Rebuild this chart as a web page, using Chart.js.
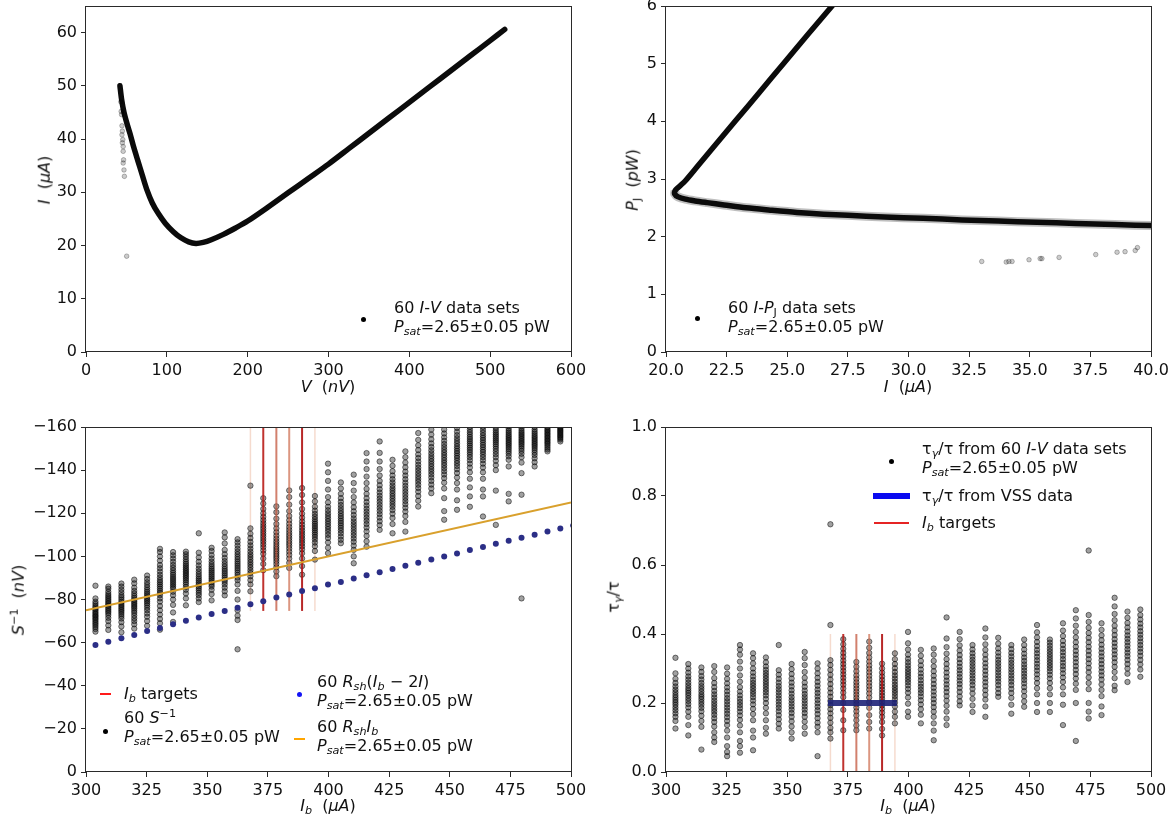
<!DOCTYPE html>
<html>
<head>
<meta charset="utf-8">
<script src="https://cdn.jsdelivr.net/npm/chart.js@4/dist/chart.umd.min.js"></script>
<style>
html,body{margin:0;padding:0;background:#fff;}
#fig{position:relative;width:1175px;height:823px;overflow:hidden;font-family:"DejaVu Sans",sans-serif;color:#111;}
canvas{position:absolute;}
.t{position:absolute;font-size:16px;line-height:18.6px;white-space:nowrap;}
.i{font-style:italic;}
.sb{font-size:70%;vertical-align:-0.28em;line-height:0;}
.sp{font-size:70%;vertical-align:0.55em;line-height:0;}
.ctr{transform:translate(-50%,-50%);}
.rot{transform:translate(-50%,-50%) rotate(-90deg);}
.vc{transform:translateY(-50%);}
.mk{position:absolute;}
.dot{position:absolute;width:5px;height:5px;border-radius:50%;}
</style>
</head>
<body>
<div id="fig">
  <canvas id="cIV" width="590" height="410" style="left:0;top:0"></canvas>
  <canvas id="cPJ" width="585" height="410" style="left:590px;top:0"></canvas>
  <canvas id="cS" width="590" height="413" style="left:0;top:410px"></canvas>
  <canvas id="cTau" width="585" height="413" style="left:590px;top:410px"></canvas>

  <!-- I-V panel labels -->
  <div class="t ctr" style="left:328px;top:387px"><span class="i">V</span>&nbsp;&nbsp;(<span class="i">nV</span>)</div>
  <div class="t rot" style="left:45px;top:180px"><span class="i">I</span>&nbsp;&nbsp;(<span class="i">μA</span>)</div>
  <div class="dot" style="left:360.5px;top:316.5px;background:#000"></div>
  <div class="t" style="left:394px;top:299px">60 <span class="i">I</span>-<span class="i">V</span> data sets<br><span class="i">P<span class="sb">sat</span></span>=2.65±0.05 pW</div>

  <!-- Joule power panel labels -->
  <div class="t ctr" style="left:908px;top:387px"><span class="i">I</span>&nbsp;&nbsp;(<span class="i">μA</span>)</div>
  <div class="t rot" style="left:633px;top:180px"><span class="i">P</span><span class="sb">J</span>&nbsp;&nbsp;(<span class="i">pW</span>)</div>
  <div class="dot" style="left:694.5px;top:315.5px;background:#000"></div>
  <div class="t" style="left:728px;top:299px">60 <span class="i">I</span>-<span class="i">P</span><span class="sb">J</span> data sets<br><span class="i">P<span class="sb">sat</span></span>=2.65±0.05 pW</div>

  <!-- S^-1 panel labels -->
  <div class="t ctr" style="left:328px;top:806px"><span class="i">I<span class="sb">b</span></span>&nbsp;&nbsp;(<span class="i">μA</span>)</div>
  <div class="t rot" style="left:19px;top:600px"><span class="i">S</span><span class="sp">−1</span>&nbsp;&nbsp;(<span class="i">nV</span>)</div>
  <div class="mk" style="left:100px;top:693px;width:10.5px;height:2px;background:#ff1a1a"></div>
  <div class="t vc" style="left:124px;top:694px"><span class="i">I<span class="sb">b</span></span> targets</div>
  <div class="dot" style="left:103px;top:728.5px;background:#000"></div>
  <div class="t" style="left:124px;top:709px">60 <span class="i">S</span><span class="sp">−1</span><br><span class="i">P<span class="sb">sat</span></span>=2.65±0.05 pW</div>
  <div class="dot" style="left:296.5px;top:691.5px;background:#1414f5"></div>
  <div class="t" style="left:317px;top:673px">60 <span class="i">R<span class="sb">sh</span></span>(<span class="i">I<span class="sb">b</span></span> − 2<span class="i">I</span>)<br><span class="i">P<span class="sb">sat</span></span>=2.65±0.05 pW</div>
  <div class="mk" style="left:294px;top:738px;width:10.5px;height:2px;background:#ffa500"></div>
  <div class="t" style="left:317px;top:718px">60 <span class="i">R<span class="sb">sh</span>I<span class="sb">b</span></span><br><span class="i">P<span class="sb">sat</span></span>=2.65±0.05 pW</div>

  <!-- tau ratio panel labels -->
  <div class="t ctr" style="left:908px;top:806px"><span class="i">I<span class="sb">b</span></span>&nbsp;&nbsp;(<span class="i">μA</span>)</div>
  <div class="t rot" style="left:614px;top:597px">τ<span class="sb i">γ</span>/τ</div>
  <div class="dot" style="left:889px;top:459px;background:#000"></div>
  <div class="t" style="left:922px;top:440px">τ<span class="sb i">γ</span>/τ from 60 <span class="i">I</span>-<span class="i">V</span> data sets<br><span class="i">P<span class="sb">sat</span></span>=2.65±0.05 pW</div>
  <div class="mk" style="left:872.5px;top:493px;width:37.5px;height:6px;background:#0a0af0"></div>
  <div class="t vc" style="left:922px;top:496px">τ<span class="sb i">γ</span>/τ from VSS data</div>
  <div class="mk" style="left:873.5px;top:522px;width:35.5px;height:2px;background:#e52424"></div>
  <div class="t vc" style="left:922px;top:523px"><span class="i">I<span class="sb">b</span></span> targets</div>
</div>

<script>
// ---- I-V sweep (V in nV, I in uA) ----
const ivVolt = [42,44,47,50.5,54.5,59,64,69.5,75.5,82,89.5,98,108,117,127,136,145,155,170,185,200,225,250,275,300,325,350,375,400,425,450,475,500,518];
const ivCurr = [50,47.5,45,43,41,38.5,36,33.3,30.4,28,26,24.2,22.6,21.5,20.7,20.4,20.6,21.1,22.1,23.3,24.6,27.2,29.9,32.6,35.3,38.2,41.1,44.0,46.9,49.8,52.7,55.6,58.5,60.6];
const ivStrayVolt = [43,43.5,44,44.5,45,44.5,45.5,45,46,46,46.5,46,47,47.5,50.3];
const ivStrayCurr = [47,45.2,44.6,42.5,41.5,40.8,39.9,39.3,38.6,37.7,36.1,35.5,34.2,33,18];

// ---- Joule power vs current ----
const pjCurr  = [27.05,25.84,24.84,23.85,22.85,21.85,21.3,20.8,20.55,20.38,20.36,20.5,20.8,21.2,21.7,22.4,23.3,24.3,25.4,26.5,27.5,29.0,30.6,32.2,33.7,35.3,36.9,38.5,40.2];
const pjPower = [6.1,5.5,5.0,4.5,4.0,3.5,3.22,2.97,2.87,2.8,2.74,2.69,2.65,2.62,2.59,2.55,2.5,2.46,2.42,2.39,2.37,2.34,2.32,2.29,2.27,2.25,2.23,2.21,2.19];
const pjStrayCurr  = [33.02,34.03,34.14,34.27,34.97,35.43,35.5,36.21,37.72,38.6,38.93,39.35,39.44];
const pjStrayPower = [1.57,1.56,1.57,1.57,1.6,1.62,1.62,1.64,1.69,1.73,1.74,1.76,1.81];

// ---- bias current steps (uA) ----
const biasCurrents = [303.9,309.2,314.6,319.9,325.2,330.5,335.9,341.2,346.5,351.8,357.2,362.5,367.8,373.1,378.5,383.8,389.1,394.4,399.8,405.1,410.4,415.7,421.1,426.4,431.7,437.0,442.4,447.7,453.0,458.3,463.7,469.0,474.3,479.6,485.0,490.3,495.6];

// S^-1 (nV) for each bias step
const sInvColumns = [
[-86.4,-80.5,-79,-78,-77,-76.2,-75.5,-74.8,-74,-73.3,-72.6,-72,-71.3,-70.6,-69.8,-69,-68.2,-67.3,-66.3,-65.1],
[-86,-85,-83.6,-82.5,-81.6,-80.8,-80,-79.2,-78.4,-77.7,-77,-76.2,-75.4,-74.6,-73.8,-72.8,-71.5,-70,-68,-65.9],
[-87.4,-86,-84.6,-83.3,-82,-81,-80,-79,-78.2,-77.4,-76.6,-75.8,-75,-74.2,-73.3,-72.3,-71.2,-69.5,-67.5,-64.8],
[-89.2,-87.5,-85.5,-84,-82.8,-81.7,-80.7,-79.8,-79,-78.2,-77.4,-76.6,-75.8,-74.8,-73.8,-72.6,-71.3,-70,-68.5,-66.5],
[-91.1,-89.5,-88,-86.8,-85.6,-84.5,-83.5,-82.6,-81.7,-80.8,-80,-79.2,-78.3,-77.3,-76.2,-75,-73.5,-72,-70,-67.8],
[-103.5,-102,-100,-98,-96,-94.5,-93,-91.5,-90.2,-89,-88,-87,-86,-85,-84,-83,-82,-80.5,-79,-77,-75,-73,-71,-69,-66],
[-102,-100.5,-99,-97.5,-96,-94.7,-93.5,-92.4,-91.4,-90.4,-89.5,-88.6,-87.7,-86.8,-85.9,-85,-83.6,-82,-80,-77.5,-74,-69.6],
[-102.2,-101,-99.8,-98.6,-97.5,-96.5,-95.6,-94.7,-93.9,-93.1,-92.3,-91.5,-90.7,-89.9,-89,-88,-87,-85.8,-84.5,-82.8,-80.5,-77.3],
[-110.7,-101.7,-99.5,-97.5,-95.8,-94.3,-93,-91.8,-90.7,-89.7,-88.8,-87.9,-87,-86.1,-85.2,-84.2,-83.1,-82,-80.5,-78.8],
[-104,-102.5,-100.6,-99,-97.6,-96.4,-95.3,-94.3,-93.4,-92.5,-91.6,-90.7,-89.8,-88.9,-88,-87,-86,-84.5,-82.5,-79.6],
[-111.1,-108.8,-106,-103,-101,-99.3,-97.8,-96.5,-95.3,-94.2,-93.2,-92.2,-91.2,-90.2,-89.2,-88.2,-87,-85.5,-83.8,-81.9],
[-108,-106.5,-105,-103.5,-102.2,-101,-99.8,-98.7,-97.6,-96.6,-95.6,-94.6,-93.6,-92.5,-91.4,-90.2,-89,-87,-84,-80,-75,-72.5,-70.5,-56.9],
[-132.8,-113,-110.5,-108.5,-106.7,-105.1,-103.6,-102.2,-100.9,-99.7,-98.5,-97.3,-96.1,-94.9,-93.6,-92.3,-90.8,-89,-87,-83.8],
[-127,-124.5,-122,-120,-118.3,-116.8,-115.4,-114.1,-112.9,-111.7,-110.5,-109.3,-108.1,-106.9,-105.6,-104.3,-102.8,-101.2,-99,-96.5,-93.6],
[-123.2,-120.5,-117.5,-115,-113,-111.2,-109.6,-108.2,-106.9,-105.7,-104.5,-103.4,-102.3,-101.2,-100.1,-99,-97.8,-96.5,-95,-93,-90.8],
[-130.6,-127.5,-124,-121,-118.7,-116.8,-115.1,-113.6,-112.2,-110.9,-109.7,-108.5,-107.3,-106.1,-104.9,-103.6,-102.2,-100.7,-99,-97,-94.6],
[-131.7,-128.5,-125,-122,-119.8,-117.9,-116.2,-114.7,-113.3,-112,-110.8,-109.6,-108.4,-107.2,-106,-104.7,-103.3,-101.5,-99,-95.5,-91.5],
[-128,-125.5,-123,-121.2,-119.7,-118.4,-117.2,-116.1,-115.1,-114.1,-113.1,-112.1,-111.1,-110.1,-109,-107.8,-106.4,-104.7,-102.5,-98.5],
[-143,-139,-135,-131,-127.5,-125,-123,-121.4,-120,-118.7,-117.5,-116.3,-115.1,-113.9,-112.7,-111.4,-110,-108.5,-106.5,-104,-101.5],
[-134.3,-131.5,-129,-127,-125.3,-123.8,-122.4,-121.1,-119.9,-118.7,-117.6,-116.5,-115.4,-114.3,-113.2,-112,-110.7,-109.2,-107.7,-106.1],
[-137.9,-134,-130.5,-127.5,-125,-122.8,-120.9,-119.2,-117.6,-116.2,-114.9,-113.6,-112.3,-111,-109.7,-108.3,-106.8,-105,-103,-100,-96.8],
[-147.9,-144,-140.5,-137,-134,-131.3,-129,-127,-125.2,-123.6,-122.1,-120.7,-119.3,-117.9,-116.5,-115,-113.4,-111.6,-109.5,-107,-104.5],
[-153.3,-148,-144,-140.5,-137.5,-135,-133,-131.2,-129.6,-128.1,-126.7,-125.3,-123.9,-122.5,-121.1,-119.6,-118,-116.3,-114.5,-112.3],
[-144.8,-142,-139.5,-137.5,-135.8,-134.3,-132.9,-131.6,-130.4,-129.2,-128,-126.8,-125.6,-124.3,-123,-121.5,-119.8,-117.8,-115,-110.7],
[-148.7,-146,-143.5,-141.3,-139.3,-137.5,-135.8,-134.2,-132.7,-131.3,-129.9,-128.5,-127.1,-125.7,-124.2,-122.6,-120.8,-118.7,-116,-111.5],
[-157.2,-154,-151.5,-149.3,-147.3,-145.6,-144,-142.5,-141.1,-139.8,-138.5,-137.2,-135.9,-134.6,-133.2,-131.7,-130,-128,-125.8,-123.1],
[-158.8,-156.5,-154.3,-152.4,-150.7,-149.2,-147.8,-146.5,-145.3,-144.1,-142.9,-141.7,-140.5,-139.3,-138,-136.6,-135,-133.3,-131.5,-129.3],
[-158.8,-157,-155.2,-153.6,-152.1,-150.7,-149.4,-148.2,-147,-145.8,-144.6,-143.4,-142.2,-140.9,-139.5,-138,-136.3,-134.2,-131.5,-127,-121,-117],
[-159.5,-157.8,-156.2,-154.8,-153.5,-152.3,-151.1,-150,-148.9,-147.8,-146.7,-145.6,-144.4,-143.2,-141.9,-140.4,-138.7,-136.6,-134,-131,-126,-121.6],
[-160,-158.8,-157.6,-156.5,-155.4,-154.4,-153.4,-152.4,-151.4,-150.4,-149.4,-148.3,-147.2,-146,-144.6,-143,-141.2,-139,-136,-132,-127.8,-123],
[-162,-160,-158.6,-157.3,-156.1,-155,-153.9,-152.8,-151.7,-150.6,-149.5,-148.4,-147.2,-146,-144.6,-143,-141.2,-139,-136,-131,-127.8,-118.5],
[-163,-161,-159.6,-158.5,-157.5,-156.6,-155.7,-154.8,-153.9,-153,-152,-151,-149.9,-148.7,-147.4,-146,-144.3,-142.3,-140,-130.5,-114.6],
[-162,-160.3,-159.2,-158.2,-157.3,-156.4,-155.6,-154.8,-154,-153.2,-152.4,-151.6,-150.7,-149.8,-148.8,-147.7,-146.4,-144.8,-141.7,-129,-125.5],
[-162,-160.5,-159.4,-158.4,-157.5,-156.7,-155.9,-155.1,-154.3,-153.5,-152.7,-151.9,-151,-150,-148.9,-147.6,-146,-143.5,-138.6,-128.6,-80.5],
[-160,-158.8,-157.8,-156.9,-156,-155.2,-154.4,-153.6,-152.8,-152,-151.2,-150.3,-149.3,-148.2,-147,-145.5,-143.7,-141.7],
[-160,-159.2,-158.5,-157.8,-157.1,-156.4,-155.7,-155,-154.3,-153.6,-152.9,-152.2,-151.4,-150.5,-149.6,-148.7],
[-161,-160.3,-159.7,-159.1,-158.5,-157.9,-157.3,-156.7,-156.1,-155.5,-154.9,-154.2,-153.3]
];

// R_sh (I_b - 2I), one value per bias step
const rshCurrents = [303.9,309.2,314.6,319.9,325.2,330.5,335.9,341.2,346.5,351.8,357.2,362.5,367.8,373.1,378.5,383.8,389.1,394.4,399.8,405.1,410.4,415.7,421.1,426.4,431.7,437.0,442.4,447.7,453.0,458.3,463.7,469.0,474.3,479.6,485.0,490.3,495.6,500.9];
const rshValues = [-58.9,-60.4,-62.0,-63.5,-65.4,-66.8,-68.5,-70.2,-71.7,-73.3,-74.7,-76.2,-77.8,-79.2,-80.9,-82.3,-84.0,-85.2,-86.9,-88.1,-89.7,-91.2,-92.6,-94.2,-95.6,-97.0,-98.5,-99.9,-101.3,-102.9,-104.4,-105.8,-107.2,-108.6,-110.0,-111.5,-112.9,-114.3];

// R_sh I_b straight line
const rshIbCurrents = [300, 500];
const rshIbValues = [-75, -125];

// I_b targets and bracketing steps
const ibTargets = [373.1, 378.5, 383.8, 389.1];
const ibBrackets = [367.8, 394.4];
const targetLowS = -74.7;
const targetTopTau = 0.4;

// tau_gamma / tau for each bias step
const tauColumns = [
[0.331,0.286,0.27,0.258,0.248,0.239,0.231,0.223,0.216,0.209,0.202,0.195,0.187,0.179,0.17,0.16,0.148,0.126],
[0.313,0.3,0.288,0.277,0.268,0.259,0.251,0.243,0.236,0.229,0.222,0.214,0.206,0.197,0.187,0.175,0.16,0.136,0.106],
[0.303,0.29,0.278,0.268,0.258,0.249,0.241,0.233,0.225,0.218,0.211,0.203,0.195,0.186,0.176,0.163,0.148,0.131,0.065],
[0.307,0.29,0.272,0.258,0.246,0.235,0.225,0.216,0.207,0.199,0.191,0.183,0.175,0.166,0.156,0.145,0.132,0.115,0.1,0.087],
[0.303,0.285,0.27,0.257,0.245,0.234,0.224,0.214,0.205,0.196,0.187,0.178,0.169,0.159,0.148,0.136,0.12,0.1,0.075,0.058,0.046],
[0.368,0.355,0.34,0.32,0.3,0.28,0.262,0.246,0.233,0.222,0.212,0.203,0.194,0.185,0.175,0.164,0.151,0.135,0.115,0.09,0.075,0.056],
[0.344,0.33,0.315,0.3,0.288,0.277,0.267,0.258,0.25,0.242,0.234,0.226,0.217,0.207,0.196,0.183,0.168,0.15,0.12,0.1,0.063],
[0.332,0.318,0.306,0.296,0.287,0.279,0.271,0.263,0.255,0.247,0.239,0.231,0.222,0.212,0.2,0.186,0.17,0.15,0.128,0.111],
[0.368,0.295,0.282,0.27,0.259,0.249,0.24,0.231,0.222,0.213,0.204,0.195,0.186,0.176,0.165,0.153,0.14,0.126],
[0.313,0.298,0.284,0.271,0.259,0.248,0.237,0.227,0.217,0.208,0.199,0.19,0.181,0.171,0.16,0.147,0.132,0.115,0.097],
[0.348,0.33,0.31,0.29,0.273,0.259,0.247,0.236,0.226,0.217,0.208,0.199,0.19,0.181,0.171,0.16,0.146,0.13,0.111],
[0.315,0.3,0.286,0.273,0.261,0.25,0.239,0.229,0.219,0.209,0.199,0.189,0.179,0.168,0.156,0.143,0.131,0.115,0.046],
[0.718,0.426,0.324,0.31,0.296,0.282,0.268,0.255,0.242,0.23,0.218,0.206,0.194,0.182,0.17,0.157,0.143,0.128,0.115,0.097],
[0.385,0.37,0.357,0.345,0.334,0.323,0.313,0.303,0.293,0.283,0.273,0.263,0.253,0.242,0.23,0.217,0.2,0.18,0.15,0.121],
[0.319,0.305,0.292,0.28,0.27,0.26,0.251,0.242,0.233,0.224,0.215,0.206,0.197,0.187,0.176,0.164,0.15,0.135,0.121],
[0.378,0.36,0.345,0.332,0.32,0.309,0.299,0.289,0.279,0.269,0.259,0.249,0.239,0.228,0.216,0.202,0.186,0.165,0.145,0.126],
[0.314,0.3,0.288,0.277,0.267,0.257,0.248,0.239,0.23,0.221,0.212,0.203,0.193,0.183,0.172,0.16,0.145,0.125,0.106],
[0.344,0.327,0.313,0.301,0.29,0.28,0.271,0.262,0.253,0.245,0.237,0.229,0.22,0.211,0.201,0.19,0.175,0.16,0.141],
[0.406,0.373,0.355,0.34,0.328,0.318,0.309,0.3,0.292,0.284,0.276,0.268,0.26,0.251,0.241,0.23,0.216,0.198,0.175,0.16],
[0.354,0.337,0.322,0.309,0.297,0.286,0.276,0.266,0.256,0.247,0.238,0.229,0.219,0.208,0.196,0.182,0.166,0.141],
[0.358,0.34,0.322,0.306,0.292,0.279,0.267,0.255,0.244,0.233,0.222,0.211,0.2,0.188,0.175,0.16,0.141,0.12,0.092],
[0.448,0.387,0.362,0.343,0.327,0.313,0.3,0.288,0.276,0.265,0.254,0.243,0.232,0.22,0.207,0.192,0.175,0.155,0.136],
[0.406,0.385,0.367,0.352,0.339,0.327,0.316,0.305,0.295,0.285,0.275,0.265,0.255,0.244,0.232,0.219,0.205,0.193],
[0.368,0.355,0.344,0.334,0.325,0.316,0.307,0.298,0.289,0.28,0.271,0.262,0.252,0.241,0.228,0.212,0.193,0.174],
[0.416,0.39,0.37,0.354,0.34,0.327,0.315,0.304,0.293,0.282,0.271,0.26,0.249,0.237,0.224,0.21,0.19,0.16],
[0.389,0.372,0.358,0.346,0.335,0.325,0.316,0.307,0.298,0.289,0.28,0.271,0.262,0.252,0.241,0.229,0.218],
[0.368,0.356,0.345,0.335,0.325,0.316,0.307,0.298,0.289,0.28,0.271,0.262,0.252,0.241,0.229,0.215,0.195,0.169],
[0.384,0.368,0.355,0.343,0.332,0.322,0.312,0.303,0.294,0.285,0.276,0.267,0.257,0.246,0.234,0.22,0.205,0.189],
[0.426,0.405,0.39,0.377,0.365,0.354,0.344,0.334,0.324,0.314,0.304,0.294,0.283,0.271,0.258,0.243,0.225,0.2,0.174],
[0.384,0.375,0.366,0.357,0.349,0.341,0.333,0.325,0.317,0.309,0.301,0.292,0.282,0.271,0.258,0.243,0.225,0.2,0.174],
[0.431,0.41,0.394,0.38,0.368,0.357,0.347,0.337,0.327,0.317,0.307,0.297,0.286,0.274,0.261,0.245,0.225,0.195,0.136],
[0.469,0.445,0.424,0.406,0.39,0.376,0.363,0.351,0.34,0.329,0.318,0.307,0.296,0.284,0.271,0.256,0.238,0.2,0.09],
[0.642,0.455,0.435,0.418,0.403,0.389,0.376,0.363,0.351,0.339,0.327,0.315,0.302,0.289,0.274,0.258,0.24,0.2,0.175,0.155],
[0.431,0.412,0.396,0.382,0.369,0.357,0.346,0.335,0.324,0.313,0.302,0.291,0.28,0.268,0.254,0.238,0.22,0.19,0.165],
[0.505,0.48,0.458,0.44,0.424,0.41,0.397,0.385,0.374,0.363,0.352,0.341,0.33,0.318,0.305,0.29,0.272,0.25,0.237],
[0.465,0.447,0.432,0.419,0.407,0.396,0.386,0.376,0.366,0.356,0.346,0.336,0.325,0.313,0.3,0.285,0.261],
[0.471,0.455,0.442,0.43,0.419,0.408,0.398,0.388,0.378,0.368,0.358,0.348,0.337,0.325,0.312,0.297,0.276]
];

// VSS estimate of tau_gamma / tau over the target window
const vssCurrents = [366.8, 395.2];
const vssTau = [0.2, 0.2];

// ---------- drawing ----------
const pts = (xs, ys) => xs.map((x, i) => ({x, y: ys[i]}));
const columnPts = (xs, cols) => cols.flatMap((c, i) => c.map(y => ({x: xs[i], y})));
const vline = (x, y0, y1) => [{x, y: y0}, {x, y: y1}];

Chart.defaults.font.family = '"DejaVu Sans", sans-serif';
Chart.defaults.font.size = 16;
Chart.defaults.color = '#111';
Chart.defaults.animation = false;
Chart.defaults.plugins.legend.display = false;
Chart.defaults.plugins.tooltip.enabled = false;

const minus = v => String(v).replace('-', '\u2212');
const fixed1 = v => Number(v).toFixed(1);

// full box around the plotting area
const framePlugin = {
  id: 'frame',
  afterDraw(chart) {
    const {ctx, chartArea: a} = chart;
    ctx.save();
    ctx.strokeStyle = '#2a2a2a';
    ctx.lineWidth = 1;
    ctx.strokeRect(Math.round(a.left) - 0.5, Math.round(a.top) + 0.5,
                   Math.round(a.right - a.left) + 1, Math.round(a.bottom - a.top) - 1);
    ctx.restore();
  }
};

function axis(isX, min, max, step, fit, fmt, extra) {
  return Object.assign({
    type: 'linear', min, max,
    ticks: {stepSize: step, includeBounds: false, padding: 4, color: '#111',
            maxRotation: 0, autoSkip: false, callback: fmt || (v => v)},
    grid: {drawOnChartArea: false, drawTicks: true, tickLength: 5, tickColor: '#2a2a2a', color: '#2a2a2a', lineWidth: 1},
    border: {display: false},
    afterFit(s) {
      if (isX) { s.height = fit; s.paddingLeft = 0; s.paddingRight = 0; }
      else { s.width = fit; s.paddingTop = 0; s.paddingBottom = 0; }
    }
  }, extra || {});
}

function baseOptions(xAx, yAx, pad) {
  return {
    responsive: false, maintainAspectRatio: false, animation: false,
    layout: {padding: pad},
    scales: {x: xAx, y: yAx},
    plugins: {legend: {display: false}, tooltip: {enabled: false}}
  };
}

// faint outliers in the upper panels
const strayDot = {pointRadius: 2.3, pointBorderWidth: 1,
                  pointBackgroundColor: 'rgba(0,0,0,0.2)', pointBorderColor: 'rgba(0,0,0,0.26)',
                  backgroundColor: 'rgba(0,0,0,0.2)', borderColor: 'rgba(0,0,0,0.26)', showLine: false};
// per-bias-step scatter in the lower panels
const columnDot = {pointRadius: 2.7, pointBorderWidth: 1,
                   pointBackgroundColor: 'rgba(0,0,0,0.37)', pointBorderColor: 'rgba(0,0,0,0.5)',
                   backgroundColor: 'rgba(0,0,0,0.37)', borderColor: 'rgba(0,0,0,0.5)', showLine: false};

// I-V panel
new Chart(document.getElementById('cIV'), {
  type: 'scatter',
  data: {datasets: [
    Object.assign({data: pts(ivStrayVolt, ivStrayCurr), order: 1}, strayDot),
    {data: pts(ivVolt, ivCurr), showLine: true, pointRadius: 0, borderColor: '#0b0b0b',
     borderWidth: 5.5, borderJoinStyle: 'round', borderCapStyle: 'round', tension: 0.25, order: 2}
  ]},
  options: baseOptions(
    axis(true, 0, 600, 100, 58),
    axis(false, 0, 65, 10, 86),
    {left: 0, right: 19, top: 6, bottom: 0}),
  plugins: [framePlugin]
});

// Joule power panel
new Chart(document.getElementById('cPJ'), {
  type: 'scatter',
  data: {datasets: [
    Object.assign({data: pts(pjStrayCurr, pjStrayPower), order: 1}, strayDot),
    {data: pts(pjCurr, pjPower), showLine: true, pointRadius: 0, borderColor: '#0b0b0b',
     borderWidth: 5.5, borderJoinStyle: 'round', borderCapStyle: 'round', tension: 0.3, order: 2},
    {data: pts(pjCurr.slice(9), pjPower.slice(9)), showLine: true, pointRadius: 0,
     borderColor: 'rgba(0,0,0,0.25)', borderWidth: 9, borderJoinStyle: 'round', tension: 0.3, order: 3}
  ]},
  options: baseOptions(
    axis(true, 20, 40, 2.5, 58, fixed1),
    axis(false, 0, 6, 1, 76),
    {left: 0, right: 24, top: 6, bottom: 0}),
  plugins: [framePlugin]
});

const targetStyles = [
  {c: 'rgba(185,28,24,0.9)', w: 2},
  {c: 'rgba(195,85,60,0.75)', w: 2},
  {c: 'rgba(205,110,80,0.72)', w: 2},
  {c: 'rgba(178,22,22,0.92)', w: 2}
];
const bracketStyle = {c: 'rgba(228,160,125,0.38)', w: 1.5};

function lineSet(data, style, order) {
  return {data, showLine: true, pointRadius: 0, borderColor: style.c, borderWidth: style.w, order};
}

// S^-1 panel
new Chart(document.getElementById('cS'), {
  type: 'scatter',
  data: {datasets: [
    ...ibBrackets.map(x => lineSet(vline(x, targetLowS, -170), bracketStyle, 6)),
    Object.assign({data: columnPts(biasCurrents, sInvColumns), order: 5}, columnDot),
    ...ibTargets.map((x, i) => lineSet(vline(x, targetLowS, -170), targetStyles[i], 4)),
    lineSet(pts(rshIbCurrents, rshIbValues), {c: '#d9a02c', w: 2}, 3),
    {data: pts(rshCurrents, rshValues), showLine: false, pointRadius: 3, pointBorderWidth: 0,
     pointBackgroundColor: '#2b2e86', backgroundColor: '#2b2e86', order: 2}
  ]},
  options: baseOptions(
    axis(true, 300, 500, 25, 51),
    axis(false, -160, 0, 20, 86, minus, {reverse: true}),
    {left: 0, right: 19, top: 17, bottom: 0}),
  plugins: [framePlugin]
});

// tau ratio panel
new Chart(document.getElementById('cTau'), {
  type: 'scatter',
  data: {datasets: [
    ...ibBrackets.map(x => lineSet(vline(x, 0, targetTopTau), bracketStyle, 6)),
    Object.assign({data: columnPts(biasCurrents, tauColumns), order: 5}, columnDot),
    ...ibTargets.map((x, i) => lineSet(vline(x, 0, targetTopTau), targetStyles[i], 4)),
    {data: pts(vssCurrents, vssTau), showLine: true, pointRadius: 0, borderColor: 'rgba(30,34,120,0.9)',
     borderWidth: 6, borderCapStyle: 'butt', order: 3}
  ]},
  options: baseOptions(
    axis(true, 300, 500, 25, 51),
    axis(false, 0, 1, 0.2, 76, fixed1),
    {left: 0, right: 24, top: 17, bottom: 0}),
  plugins: [framePlugin]
});
</script>
</body>
</html>
